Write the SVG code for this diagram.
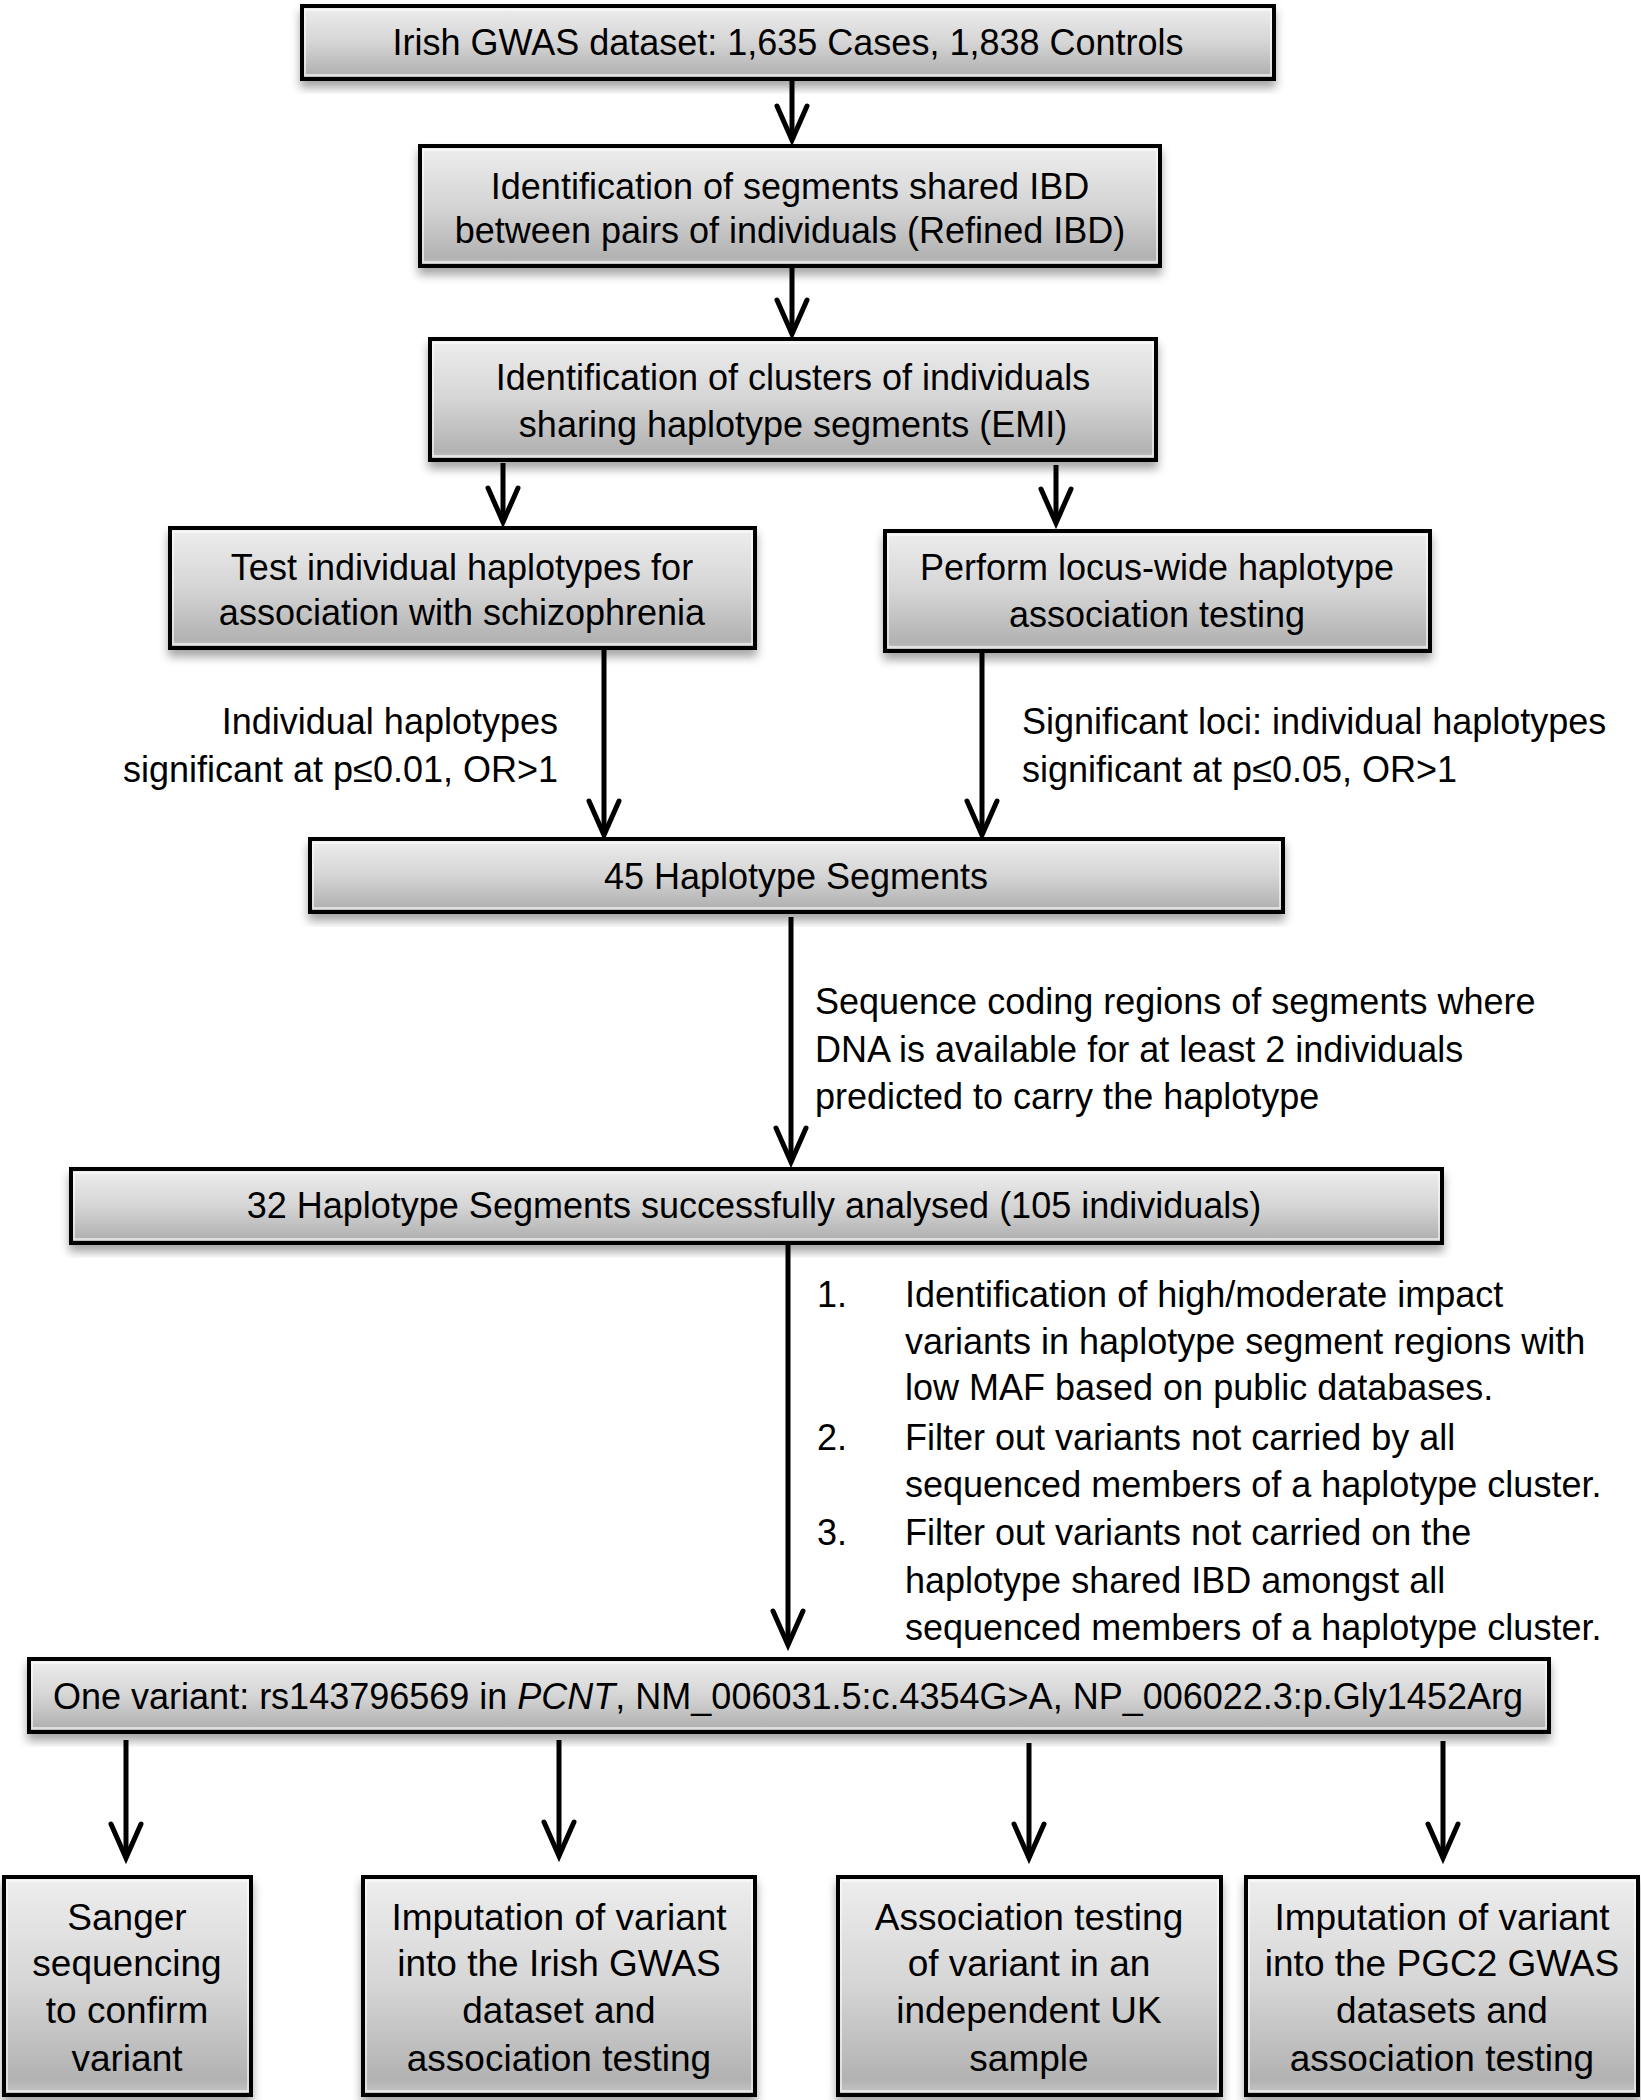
<svg xmlns="http://www.w3.org/2000/svg" width="1641" height="2100" viewBox="0 0 1641 2100">
<defs>
<linearGradient id="g" x1="0" y1="0" x2="0" y2="1">
<stop offset="0" stop-color="#eeeeee"/>
<stop offset="0.5" stop-color="#d5d5d5"/>
<stop offset="0.93" stop-color="#b2b2b2"/>
<stop offset="1" stop-color="#c8c8c8"/>
</linearGradient>
<filter id="sh" x="-5%" y="-10%" width="110%" height="130%">
<feDropShadow dx="0" dy="7" stdDeviation="5" flood-color="#000" flood-opacity="0.35"/>
</filter>
<marker id="ah" markerUnits="userSpaceOnUse" markerWidth="46" markerHeight="46" viewBox="-38 -23 46 46" refX="0" refY="0" orient="auto">
<path d="M-34,-15 L0,0 L-34,15" fill="none" stroke="#000" stroke-width="5" stroke-linejoin="miter" stroke-linecap="round"/>
</marker>
</defs>
<style>
.box{fill:url(#g);stroke:#000;stroke-width:4;filter:url(#sh)}
.hl{fill:none;stroke:#fff;stroke-width:1.5;opacity:0.75}
text{font-family:"Liberation Sans",Arial,sans-serif;font-size:36px;fill:#000}
.c{text-anchor:middle}
.e{text-anchor:end}
.b{font-size:37px}
.conn line{stroke:#000;stroke-width:5;marker-end:url(#ah)}
</style>
<rect width="1641" height="2100" fill="#fff"/>

<g class="conn" id="connectors">
<line x1="792" y1="79" x2="792" y2="140"/>
<line x1="792" y1="266" x2="792" y2="334"/>
<line x1="503" y1="463" x2="503" y2="522"/>
<line x1="1056" y1="465" x2="1056" y2="523"/>
<line x1="604" y1="648" x2="604" y2="835"/>
<line x1="982" y1="651" x2="982" y2="835"/>
<line x1="791" y1="917" x2="791" y2="1162"/>
<line x1="788" y1="1243" x2="788" y2="1645"/>
<line x1="126" y1="1740" x2="126" y2="1858"/>
<line x1="559" y1="1740" x2="559" y2="1856"/>
<line x1="1029" y1="1743" x2="1029" y2="1858"/>
<line x1="1443" y1="1741" x2="1443" y2="1858"/>
</g>

<g id="labels">
<text class="e" x="558" y="734">Individual haplotypes</text>
<text class="e" x="558" y="782">significant at p≤0.01, OR&gt;1</text>
<text x="1022" y="734">Significant loci: individual haplotypes</text>
<text x="1022" y="782">significant at p≤0.05, OR&gt;1</text>
<text x="815" y="1014">Sequence coding regions of segments where</text>
<text x="815" y="1062">DNA is available for at least 2 individuals</text>
<text x="815" y="1109">predicted to carry the haplotype</text>
<text x="817" y="1307">1.</text>
<text x="905" y="1307">Identification of high/moderate impact</text>
<text x="905" y="1354">variants in haplotype segment regions with</text>
<text x="905" y="1400">low MAF based on public databases.</text>
<text x="817" y="1450">2.</text>
<text x="905" y="1450">Filter out variants not carried by all</text>
<text x="905" y="1497">sequenced members of a haplotype cluster.</text>
<text x="817" y="1545">3.</text>
<text x="905" y="1545">Filter out variants not carried on the</text>
<text x="905" y="1593">haplotype shared IBD amongst all</text>
<text x="905" y="1640">sequenced members of a haplotype cluster.</text>
</g>

<g id="n1">
<rect class="box" x="302" y="6" width="972" height="73"/>
<rect class="hl" x="305" y="10" width="966" height="65"/>
<text class="c" x="788" y="55">Irish GWAS dataset: 1,635 Cases, 1,838 Controls</text>
</g>
<g id="n2">
<rect class="box" x="420" y="146" width="740" height="120"/>
<rect class="hl" x="423" y="150" width="734" height="112"/>
<text class="c" x="790" y="199">Identification of segments shared IBD</text>
<text class="c" x="790" y="243">between pairs of individuals (Refined IBD)</text>
</g>
<g id="n3">
<rect class="box" x="430" y="339" width="726" height="121"/>
<rect class="hl" x="433" y="343" width="720" height="113"/>
<text class="c" x="793" y="390">Identification of clusters of individuals</text>
<text class="c" x="793" y="437">sharing haplotype segments (EMI)</text>
</g>
<g id="n4">
<rect class="box" x="170" y="528" width="585" height="120"/>
<rect class="hl" x="173" y="532" width="579" height="112"/>
<text class="c" x="462" y="580">Test individual haplotypes for</text>
<text class="c" x="462" y="625">association with schizophrenia</text>
</g>
<g id="n5">
<rect class="box" x="885" y="531" width="545" height="120"/>
<rect class="hl" x="888" y="535" width="539" height="112"/>
<text class="c" x="1157" y="580">Perform locus-wide haplotype</text>
<text class="c" x="1157" y="627">association testing</text>
</g>
<g id="n6">
<rect class="box" x="310" y="839" width="973" height="73"/>
<rect class="hl" x="313" y="843" width="967" height="65"/>
<text class="c" x="796" y="889">45 Haplotype Segments</text>
</g>
<g id="n7">
<rect class="box" x="71" y="1169" width="1371" height="74"/>
<rect class="hl" x="74" y="1173" width="1365" height="66"/>
<text class="c" x="754" y="1218">32 Haplotype Segments successfully analysed (105 individuals)</text>
</g>
<g id="n8">
<rect class="box" x="29" y="1659" width="1520" height="73"/>
<rect class="hl" x="32" y="1663" width="1514" height="65"/>
<text class="c" x="788" y="1709">One variant: rs143796569 in <tspan font-style="italic">PCNT</tspan>, NM_006031.5:c.4354G&gt;A, NP_006022.3:p.Gly1452Arg</text>
</g>
<g id="n9">
<rect class="box" x="4" y="1877" width="247" height="218"/>
<rect class="hl" x="7" y="1881" width="241" height="210"/>
<text class="c b" x="127" y="1930">Sanger</text>
<text class="c b" x="127" y="1976">sequencing</text>
<text class="c b" x="127" y="2023">to confirm</text>
<text class="c b" x="127" y="2071">variant</text>
</g>
<g id="n10">
<rect class="box" x="363" y="1877" width="392" height="218"/>
<rect class="hl" x="366" y="1881" width="386" height="210"/>
<text class="c b" x="559" y="1930">Imputation of variant</text>
<text class="c b" x="559" y="1976">into the Irish GWAS</text>
<text class="c b" x="559" y="2023">dataset and</text>
<text class="c b" x="559" y="2071">association testing</text>
</g>
<g id="n11">
<rect class="box" x="838" y="1877" width="383" height="218"/>
<rect class="hl" x="841" y="1881" width="377" height="210"/>
<text class="c b" x="1029" y="1930">Association testing</text>
<text class="c b" x="1029" y="1976">of variant in an</text>
<text class="c b" x="1029" y="2023">independent UK</text>
<text class="c b" x="1029" y="2071">sample</text>
</g>
<g id="n12">
<rect class="box" x="1246" y="1877" width="392" height="218"/>
<rect class="hl" x="1249" y="1881" width="386" height="210"/>
<text class="c b" x="1442" y="1930">Imputation of variant</text>
<text class="c b" x="1442" y="1976">into the PGC2 GWAS</text>
<text class="c b" x="1442" y="2023">datasets and</text>
<text class="c b" x="1442" y="2071">association testing</text>
</g>
</svg>
